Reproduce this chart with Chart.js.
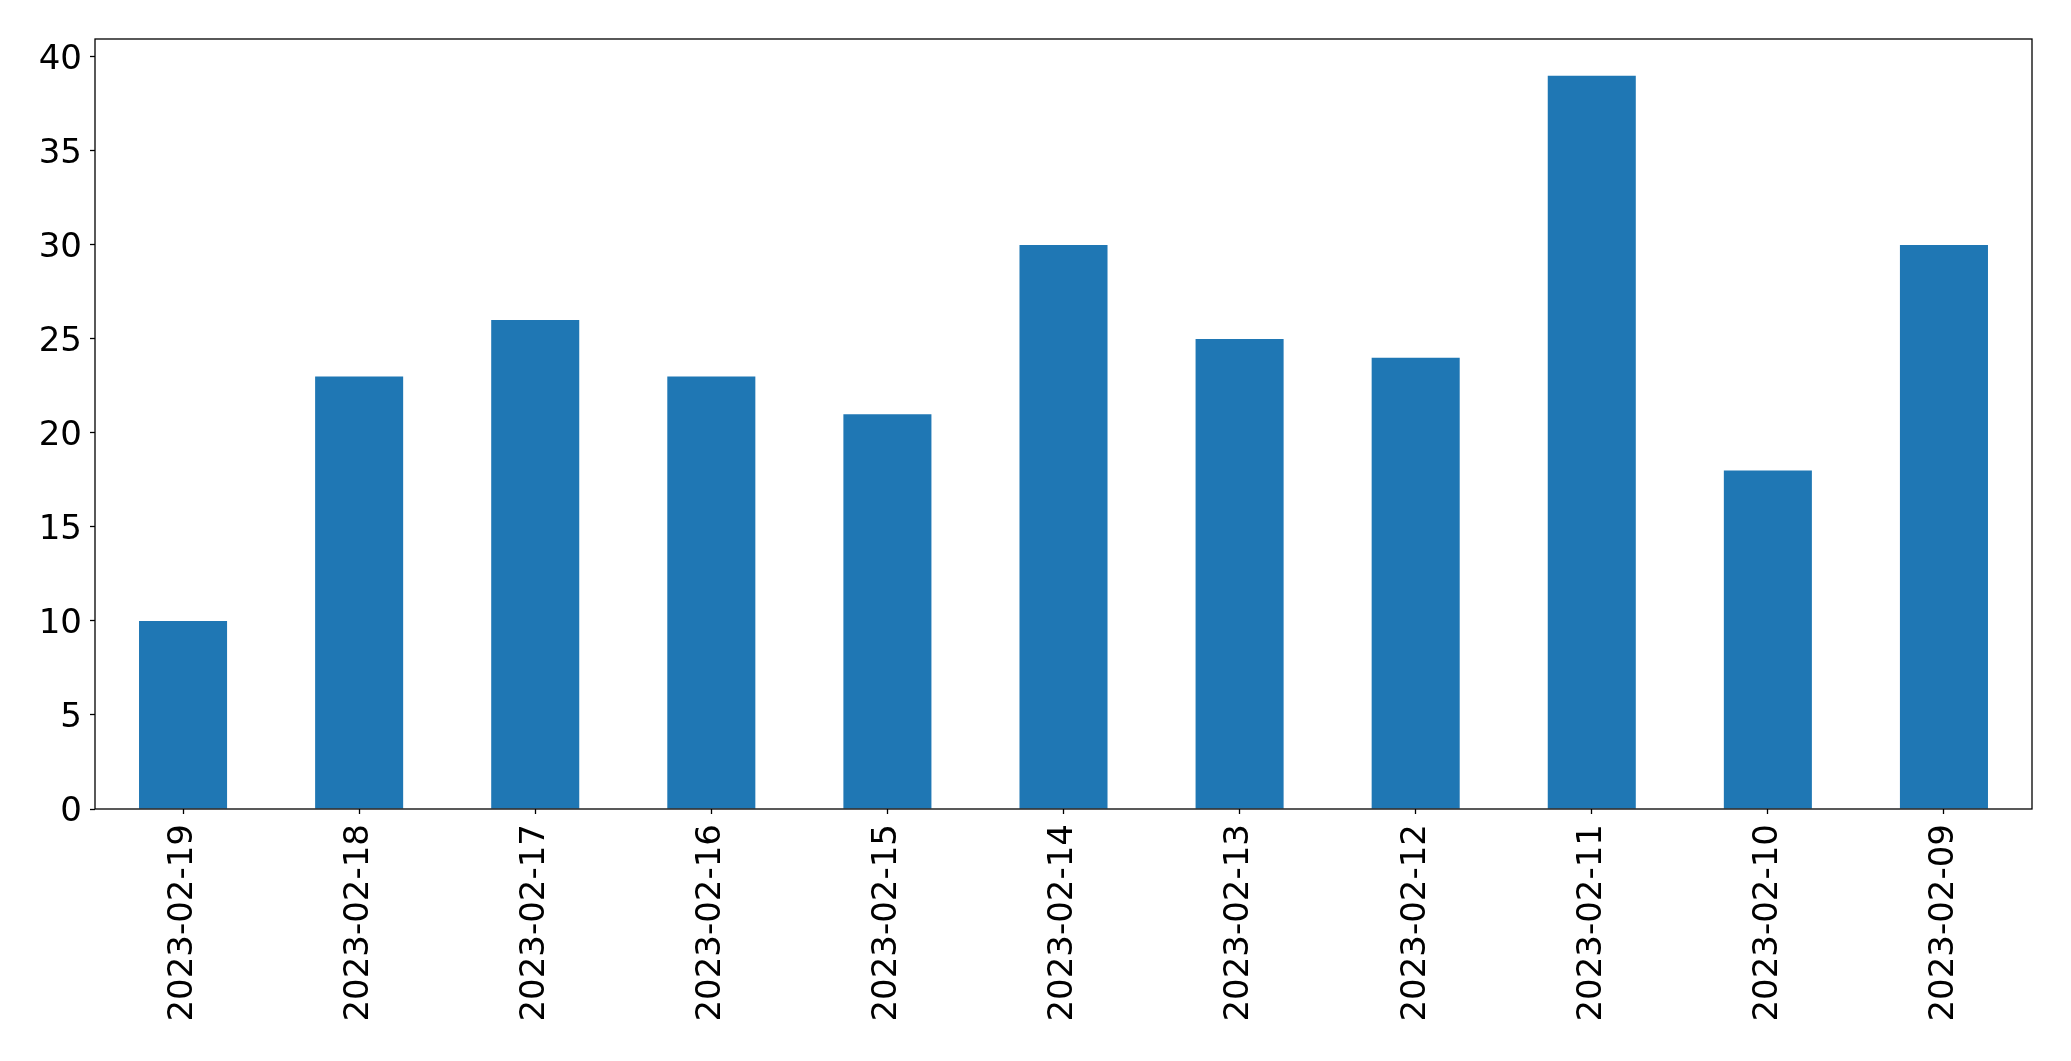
<!DOCTYPE html>
<html>
<head>
<meta charset="utf-8">
<script src="https://cdn.jsdelivr.net/npm/chart.js@4/dist/chart.umd.min.js"></script>
<style>
  html, body { margin: 0; padding: 0; background: #ffffff; }
  #wrap { width: 2071px; height: 1061px; }
</style>
</head>
<body>
<div id="wrap"><canvas id="c" width="2071" height="1061"></canvas></div>
<script>
const categories = ["2023-02-19", "2023-02-18", "2023-02-17", "2023-02-16", "2023-02-15", "2023-02-14", "2023-02-13", "2023-02-12", "2023-02-11", "2023-02-10", "2023-02-09"];
const values = [10, 23, 26, 23, 21, 30, 25, 24, 39, 18, 30];
const yTickValues = [0, 5, 10, 15, 20, 25, 30, 35, 40];

const FONT = { family: "'DejaVu Sans', sans-serif", size: 34 };

const boxPlugin = {
  id: 'box',
  afterDraw(chart) {
    const a = chart.chartArea;
    const ctx = chart.ctx;
    ctx.save();
    ctx.strokeStyle = '#000000';
    ctx.lineWidth = 1.3;
    ctx.strokeRect(a.left, a.top, a.right - a.left, a.bottom - a.top);
    ctx.restore();
  }
};

new Chart(document.getElementById('c'), {
  type: 'bar',
  data: {
    labels: categories,
    datasets: [{
      data: values,
      backgroundColor: '#1f77b4',
      borderWidth: 0,
      barPercentage: 0.5,
      categoryPercentage: 1.0
    }]
  },
  options: {
    responsive: false,
    animation: false,
    layout: { padding: { left: 0, right: 39, top: 39, bottom: 0 } },
    plugins: { legend: { display: false }, tooltip: { enabled: false } },
    scales: {
      x: {
        offset: true,
        grid: { display: true, offset: false, drawOnChartArea: false, drawTicks: true, tickLength: 5, tickColor: '#000000', tickWidth: 1.3 },
        border: { display: false },
        ticks: { color: '#000000', font: FONT, minRotation: 90, maxRotation: 90, padding: 10, autoSkip: false },
        afterFit(scale) { scale.height = 252; }
      },
      y: {
        min: 0,
        max: 40.95,
        grid: { display: true, drawOnChartArea: false, drawTicks: true, tickLength: 5, tickColor: '#000000', tickWidth: 1.3 },
        border: { display: false },
        ticks: { color: '#000000', font: FONT, stepSize: 5, padding: 8, labelOffset: 3 },
        afterBuildTicks(scale) { scale.ticks = yTickValues.map(v => ({ value: v })); },
        afterFit(scale) { scale.width = 95; }
      }
    }
  },
  plugins: [boxPlugin]
});
</script>
</body>
</html>
